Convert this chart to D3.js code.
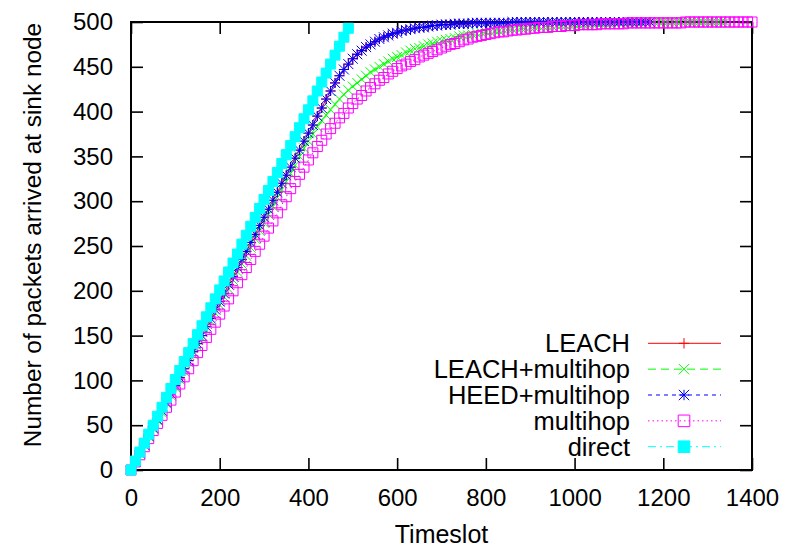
<!DOCTYPE html>
<html>
<head>
<meta charset="utf-8">
<script src="https://cdn.jsdelivr.net/npm/d3@7"></script>
<style>
html, body { margin: 0; padding: 0; background: #fff; }
svg { display: block; }
text { font-family: "Liberation Sans", Arial, Helvetica, sans-serif; fill: #000; }
</style>
</head>
<body>
<svg id="chart" width="785" height="547"></svg>
<script>
// ---------------- data ----------------
const timeslots = [0,10,20,30,40,50,60,70,80,90,100,110,120,130,140,150,160,170,180,190,
200,210,220,230,240,250,260,270,280,290,300,310,320,330,340,350,360,370,380,390,
400,410,420,430,440,450,460,470,480,490,500,510,520,530,540,550,560,570,580,590,
600,610,620,630,640,650,660,670,680,690,700,710,720,730,740,750,760,770,780,790,
800,810,820,830,840,850,860,870,880,890,900,910,920,930,940,950,960,970,980,990,
1000,1010,1020,1030,1040,1050,1060,1070,1080,1090,1100,1110,1120,1130,1140,1150,1160,1170,1180,1190,
1200,1210,1220,1230,1240,1250,1260,1270,1280,1290,1300,1310,1320,1330,1340,1350,1360,1370,1380,1390,1400];

const leach = [0,9,19,28,38,47,56,66,75,85,94,103,113,122,132,141,150,160,169,179,
188,197,207,216,226,235,244,254,263,273,282,291,301,310,320,329,338,348,357,367,
376,385,395,404,414,423,432,440,447,453,459,464,468,472,475,478,481,483,485,487,
488,490,491,492,493,494,494,495,496,496,497,497,497,498,498,498,498,499,499,499,
499,499,499,499,499,499,500,500,500,500,500,500,500,500,500,500,500,500,500,500,
500,500,500,500,500,500,500,500,500,500,500,500,500,500,500,500,500,500];

const leachMultihop = [0,9,18,28,37,46,55,64,74,83,92,101,110,120,129,138,147,156,166,175,
184,193,202,212,221,230,239,248,258,267,276,285,294,304,313,322,331,340,350,359,
367,375,383,390,396,402,408,414,419,424,428,432,436,440,444,447,450,453,456,459,
461,463,466,468,470,471,473,475,476,478,479,480,481,482,484,485,485,486,487,488,
489,489,490,490,491,492,492,493,493,493,494,494,495,495,495,495,496,496,496,496,
497,497,497,497,498,498,498,498,498,499,499,499,499,499,499,499,500,500,500,500,
500,500,500,500,500,500,500,500,500,500,500,500,500,500,500];

const heedMultihop = [0,9,19,28,38,47,56,66,75,85,94,103,113,122,132,141,150,160,169,179,
188,197,207,216,226,235,244,254,263,273,282,291,301,310,320,329,338,348,357,367,
376,385,395,404,414,423,432,440,447,453,459,464,468,472,475,478,481,483,485,487,
488,490,491,492,493,494,494,495,496,496,497,497,497,498,498,498,498,499,499,499,
499,499,499,499,499,499,500,500,500,500,500,500,500,500,500,500,500,500,500,500,
500,500,500,500,500,500,500,500,500,500,500,500,500,500,500,500,500,500];

const multihop = [0,9,17,26,35,44,52,61,70,78,87,96,104,113,122,131,139,148,157,165,
174,183,191,200,209,218,226,235,244,252,261,270,278,287,296,305,314,322,330,338,
346,354,361,368,375,381,387,393,398,404,409,414,418,423,427,431,435,438,442,445,
448,451,453,456,458,461,463,465,467,469,471,473,475,476,478,480,481,483,484,485,
486,487,488,489,489,490,491,491,492,492,493,493,494,494,494,495,495,495,496,496,
496,497,497,497,497,497,498,498,498,498,498,498,499,499,499,499,499,499,499,499,
499,499,499,499,499,500,500,500,500,500,500,500,500,500,500,500,500,500,500,500,500];

const direct = [0,10,20,30,40,50,60,70,81,91,101,111,121,131,141,151,161,171,181,191,
201,211,221,231,241,252,262,272,282,292,302,312,322,332,342,352,362,372,382,392,
402,412,423,433,443,453,463,473,483,493];

const seriesNames = ["LEACH", "LEACH+multihop", "HEED+multihop", "multihop", "direct"];
const seriesValues = [leach, leachMultihop, heedMultihop, multihop, direct];
const seriesColors = ["#ff0000", "#00ff00", "#0000ff", "#ff00ff", "#00ffff"];
const seriesDash = [null, "8,5", "4,4", "1.5,3", "8,4,2,4"];
const seriesMarker = ["plus", "cross", "star", "square", "filledSquare"];

const xTicks = [0,200,400,600,800,1000,1200,1400];
const yTicks = [0,50,100,150,200,250,300,350,400,450,500];

// ---------------- layout ----------------
const L = 131, R = 752, T = 22, B = 470;
const svg = d3.select("#chart");

const x = d3.scaleLinear().domain([0, 1400]).range([L, R]);
const y = d3.scaleLinear().domain([0, 500]).range([B, T]);

const tickFont = "24px";
const gx = svg.append("g").attr("transform", `translate(0,${B})`)
  .call(d3.axisBottom(x).tickValues(xTicks).tickSizeInner(-12).tickSizeOuter(0).tickPadding(19).tickFormat(d3.format("d")));
const gxt = svg.append("g").attr("transform", `translate(0,${T})`)
  .call(d3.axisTop(x).tickValues(xTicks).tickSizeInner(-12).tickSizeOuter(0).tickFormat(""));
const gy = svg.append("g").attr("transform", `translate(${L},0)`)
  .call(d3.axisLeft(y).tickValues(yTicks).tickSizeInner(-12).tickSizeOuter(0).tickPadding(18).tickFormat(d3.format("d")));
const gyr = svg.append("g").attr("transform", `translate(${R},0)`)
  .call(d3.axisRight(y).tickValues(yTicks).tickSizeInner(-12).tickSizeOuter(0).tickFormat(""));

[gx, gxt, gy, gyr].forEach(g => {
  g.select(".domain").remove();
  g.selectAll(".tick line").attr("stroke", "#000").attr("stroke-width", 1.6);
  g.selectAll(".tick text").attr("font-size", tickFont).attr("fill", "#000")
    .style("font-family", '"Liberation Sans", Arial, sans-serif');
});

svg.append("rect").attr("x", L).attr("y", T).attr("width", R - L).attr("height", B - T)
  .attr("fill", "none").attr("stroke", "#000").attr("stroke-width", 2);

svg.append("text").attr("x", (L + R) / 2).attr("y", 543).attr("text-anchor", "middle")
  .attr("font-size", "25px").text("Timeslot");
svg.append("text").attr("transform", "translate(41,235) rotate(-90)").attr("text-anchor", "middle")
  .attr("font-size", "24.4px").text("Number of packets arrived at sink node");

function markerPath(type, cx, cy, h) {
  switch (type) {
    case "plus": return `M${cx - h},${cy}H${cx + h}M${cx},${cy - h}V${cy + h}`;
    case "cross": return `M${cx - h},${cy - h}L${cx + h},${cy + h}M${cx - h},${cy + h}L${cx + h},${cy - h}`;
    case "star": return `M${cx - h},${cy}H${cx + h}M${cx},${cy - h}V${cy + h}M${cx - h},${cy - h}L${cx + h},${cy + h}M${cx - h},${cy + h}L${cx + h},${cy - h}`;
    case "square":
    case "filledSquare": return `M${cx - h},${cy - h}H${cx + h}V${cy + h}H${cx - h}Z`;
  }
}

const line = d3.line().x((d, i) => x(timeslots[i])).y(d => y(d));

const legTextX = 630, legLineX0 = 648, legLineX1 = 721, legMarkX = 684;
const legY0 = 343.3, legStep = 25.85;

seriesValues.forEach((vals, s) => {
  const g = svg.append("g");
  const color = seriesColors[s];
  const type = seriesMarker[s];
  g.append("path").attr("d", line(vals)).attr("fill", "none").attr("stroke", color)
    .attr("stroke-width", 1).attr("stroke-dasharray", seriesDash[s]);
  const h = (type === "square" || type === "filledSquare") ? 5 : 5;
  g.selectAll("path.pt").data(vals).enter().append("path").attr("class", "pt")
    .attr("d", (d, i) => markerPath(type, x(timeslots[i]), y(d), h))
    .attr("fill", type === "filledSquare" ? color : "none")
    .attr("stroke", color).attr("stroke-width", 1);

  const ly = legY0 + s * legStep;
  svg.append("text").attr("x", legTextX).attr("y", ly).attr("dy", "0.36em")
    .attr("text-anchor", "end").attr("font-size", "25.5px").text(seriesNames[s]);
  svg.append("line").attr("x1", legLineX0).attr("x2", legLineX1).attr("y1", ly).attr("y2", ly)
    .attr("stroke", color).attr("stroke-width", 1).attr("stroke-dasharray", seriesDash[s]);
  const lh = (type === "square" || type === "filledSquare") ? 5.8 : 5.2;
  svg.append("path").attr("d", markerPath(type, legMarkX, ly, lh))
    .attr("fill", type === "filledSquare" ? color : "none")
    .attr("stroke", color).attr("stroke-width", 1);
});
</script>
</body>
</html>
